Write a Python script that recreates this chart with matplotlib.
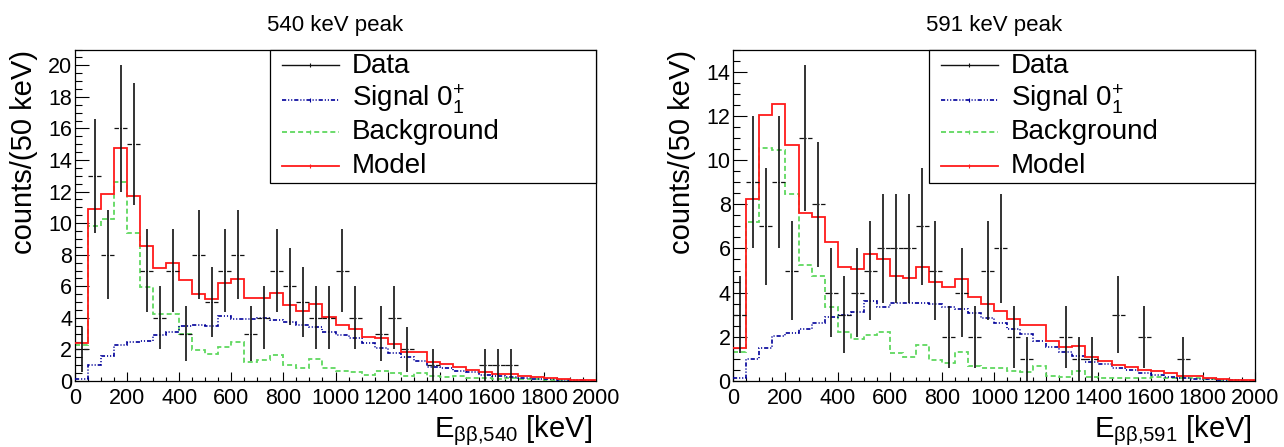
import numpy as np
import matplotlib
matplotlib.use("Agg")
import matplotlib.pyplot as plt
from matplotlib.lines import Line2D
from matplotlib.patches import Rectangle

plt.rcParams['font.family'] = ['Liberation Sans', 'DejaVu Sans']
plt.rcParams['mathtext.fontset'] = 'custom'
plt.rcParams['mathtext.rm'] = 'Liberation Sans'
plt.rcParams['mathtext.it'] = 'Liberation Sans:italic'
plt.rcParams['mathtext.bf'] = 'Liberation Sans:bold'
plt.rcParams['lines.scale_dashes'] = False

# ---------------- data ----------------
bin_edges = np.arange(0, 2050, 50)          # keV, 50 keV bins

titles = ["540 keV peak", "591 keV peak"]
xlabels = [r"$\mathrm{E_{\beta\beta{,}540}}$ [keV]", r"$\mathrm{E_{\beta\beta{,}591}}$ [keV]"]
ylabel = "counts/(50 keV)"
legend_labels = ["Data", r"Signal $\mathrm{0^{+}_{1}}$", "Background", "Model"]
ymax = [21, 15]

data_540 = [2, 13, 8, 16, 15, 7, 4, 7, 3, 8, 5, 7, 8, 3, 4, 7, 6, 5, 4, 4,
            7, 4, 0, 3, 4, 2, 0, 1, 0, 0, 0, 1, 1, 1, 0, 0, 0, 0, 0, 0]
model_540 = [2.43, 10.9, 11.87, 14.74, 11.74, 8.57, 7.14, 7.48, 6.4, 5.51,
             5.22, 6.23, 6.44, 5.24, 5.28, 5.55, 4.79, 4.46, 4.86, 4.08,
             3.55, 3.27, 2.77, 2.70, 2.32, 1.82, 1.82, 1.22, 1.08, 0.9,
             0.7, 0.59, 0.44, 0.44, 0.32, 0.23, 0.17, 0.13, 0.06, 0.04]
signal_540 = [0.13, 1.0, 1.58, 2.28, 2.5, 2.55, 2.9, 3.13, 3.5, 3.53,
              3.5, 4.1, 3.9, 3.95, 3.97, 3.87, 3.76, 3.55, 3.4, 3.13,
              2.91, 2.7, 2.39, 2.07, 1.8, 1.54, 1.27, 0.91, 0.8, 0.65,
              0.55, 0.38, 0.32, 0.27, 0.22, 0.12, 0.1, 0.08, 0.05, 0.03]
background_540 = [2.28, 9.84, 10.26, 12.59, 9.4, 5.98, 4.25, 4.25, 2.98, 1.96,
                  1.69, 2.13, 2.49, 1.22, 1.33, 1.65, 1.01, 0.8, 1.37, 0.84,
                  0.64, 0.57, 0.4, 0.62, 0.52, 0.3, 0.5, 0.3, 0.28, 0.3,
                  0.18, 0.2, 0.12, 0.17, 0.1, 0.11, 0.07, 0.05, 0.02, 0.01]

data_591 = [3, 9, 7, 9, 5, 11, 8, 4, 3, 4, 5, 6, 6, 6, 7, 5, 2, 4, 2, 5,
            6, 2, 1, 0, 0, 2, 1, 1, 0, 3, 0, 2, 0, 0, 1, 0, 0, 0, 0, 0]
model_591 = [1.48, 8.22, 12.05, 12.54, 10.66, 7.58, 7.4, 6.28, 5.18, 5.09,
             5.74, 5.5, 4.77, 4.68, 5.18, 4.47, 4.24, 4.6, 3.79, 3.47,
             3.19, 2.82, 2.54, 2.54, 1.83, 1.56, 1.6, 1.1, 0.92, 0.73,
             0.65, 0.5, 0.44, 0.35, 0.24, 0.21, 0.15, 0.09, 0.05, 0.03]
signal_591 = [0.12, 0.98, 1.51, 2.04, 2.16, 2.36, 2.61, 2.89, 2.98, 3.14,
              3.64, 3.35, 3.52, 3.55, 3.53, 3.49, 3.37, 3.25, 3.07, 2.85,
              2.61, 2.34, 2.11, 1.83, 1.56, 1.33, 1.13, 0.88, 0.77, 0.6,
              0.5, 0.35, 0.27, 0.2, 0.12, 0.09, 0.08, 0.05, 0.03, 0.02]
background_591 = [1.33, 7.19, 10.53, 10.47, 8.46, 5.23, 4.77, 3.37, 2.2, 1.9,
                  2.08, 2.2, 1.25, 1.1, 1.63, 0.95, 0.83, 1.33, 0.68, 0.6,
                  0.57, 0.47, 0.41, 0.68, 0.23, 0.2, 0.45, 0.17, 0.12, 0.12,
                  0.15, 0.12, 0.17, 0.15, 0.12, 0.12, 0.07, 0.04, 0.03, 0.01]

panels = [
    (data_540, model_540, signal_540, background_540),
    (data_591, model_591, signal_591, background_591),
]

# ---------------- styles ----------------
C_DATA = '#111111'
C_SIG = '#000099'
C_BKG = '#5fd85f'
C_MOD = '#ff1a1a'
LS_DATA_H = (0, (3.2, 1.1, 0.8, 1.1))
LS_SIG = (0, (3.0, 1.4, 0.8, 1.4, 0.8, 1.4))
LS_BKG = (0, (3.6, 2.2))

W, H = 1284, 447
fig = plt.figure(figsize=(W / 100, H / 100), dpi=100)
frames = [(75, 596), (733.3, 1255)]
top_px, bot_px = 49.5, 381

for i, (fx0, fx1) in enumerate(frames):
    ax = fig.add_axes([fx0 / W, (H - bot_px) / H, (fx1 - fx0) / W, (bot_px - top_px) / H])
    data, model, signal, bkg = [np.asarray(a, float) for a in panels[i]]
    centers = 0.5 * (bin_edges[:-1] + bin_edges[1:])
    widths = np.diff(bin_edges)

    ax.stairs(bkg, bin_edges, baseline=None, color=C_BKG, lw=1.3, linestyle=LS_BKG, zorder=2)
    ax.stairs(signal, bin_edges, baseline=None, color=C_SIG, lw=1.2, linestyle=LS_SIG, zorder=3)
    ax.stairs(model, bin_edges, baseline=None, color=C_MOD, lw=1.3, zorder=4)

    m = data > 0
    eb = ax.errorbar(centers[m], data[m], xerr=widths[m] / 2, yerr=np.sqrt(data[m]),
                     fmt='none', ecolor=C_DATA, elinewidth=1.0, capsize=0, zorder=5)
    eb[2][0].set_linestyle(LS_DATA_H)
    eb[2][0].set_linewidth(0.9)
    eb[2][1].set_linewidth(1.2)

    ax.set_xlim(0, 2000)
    ax.set_ylim(0, ymax[i])
    ax.set_xticks(np.arange(0, 2001, 200))
    ax.set_xticks(np.arange(0, 2001, 50), minor=True)
    ax.set_yticks(np.arange(0, ymax[i], 2))
    ax.set_yticks(np.arange(0, ymax[i] + 0.01, 0.5), minor=True)
    ax.tick_params(which='both', direction='in', top=False, right=False,
                   labelsize=15.5, width=0.8, color='black')
    ax.tick_params(axis='x', which='major', length=6.7, pad=5)
    ax.tick_params(axis='x', which='minor', length=3.2)
    ax.tick_params(axis='y', which='major', length=10, pad=2)
    ax.tick_params(axis='y', which='minor', length=5)
    for sp in ax.spines.values():
        sp.set_linewidth(0.9)

    ax.set_ylabel(ylabel, fontsize=21, loc='top')
    ax.yaxis.set_label_coords(-0.071, 1.0)
    ax.set_xlabel(xlabels[i], fontsize=21, loc='right')
    ax.xaxis.set_label_coords(0.993, -0.097)

    ax.text(0.5, (bot_px - 31) / (bot_px - top_px), titles[i], transform=ax.transAxes,
            ha='center', va='baseline', fontsize=16)

    # legend box
    ax.add_patch(Rectangle((0.3745, 0.596), 1 - 0.3745, 1 - 0.596, transform=ax.transAxes,
                           facecolor='white', edgecolor='black', lw=0.9, zorder=8, clip_on=False))
    line_y = [0.9518, 0.8464, 0.75, 0.6476]
    text_y = [0.9286, 0.8292, 0.7289, 0.6274]
    styles = [dict(color=C_DATA, lw=1.0, ls='-'),
              dict(color=C_SIG, lw=1.2, ls=LS_SIG),
              dict(color=C_BKG, lw=1.3, ls=LS_BKG),
              dict(color=C_MOD, lw=1.3, ls='-')]
    for ly, ty, lab, st in zip(line_y, text_y, legend_labels, styles):
        ax.add_line(Line2D([0.3973, 0.5067], [ly, ly], transform=ax.transAxes,
                           zorder=9, clip_on=False, **st))
        ax.add_line(Line2D([0.452], [ly], transform=ax.transAxes, marker='|', ms=3,
                           mew=0.8, color=st['color'], zorder=9, clip_on=False))
        ax.text(0.5317, ty, lab, transform=ax.transAxes, fontsize=20,
                ha='left', va='baseline', zorder=10)

fig.savefig("out.png", dpi=100)
